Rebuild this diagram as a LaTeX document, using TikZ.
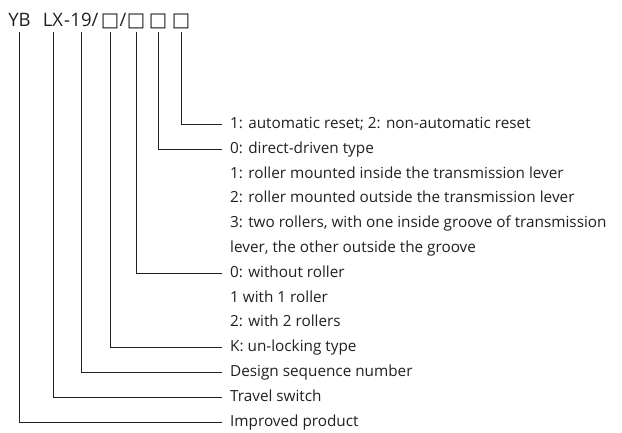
\documentclass[tikz,border=0pt]{standalone}
\usepackage{fontspec}
\setmainfont{Open Sans}
\newfontfamily\symfont{DejaVu Sans}
\usetikzlibrary{positioning}
\definecolor{inkgray}{HTML}{231F20}

\begin{document}
\begin{tikzpicture}[
  x=1pt, y=-1pt,
  font=\fontsize{15.3}{18}\selectfont,
  text=inkgray,
  code/.style={anchor=base, inner sep=0pt, font=\fontsize{18.5}{22}\selectfont},
  box/.style={anchor=base, inner sep=0pt, font=\fontsize{19.5}{22}\selectfont\symfont},
  item/.style={anchor=west, inner xsep=8pt, inner ysep=0pt,
               text height=11pt, text depth=3pt},
  lead/.style={line width=0.8pt, draw=inkgray},
]
\path[use as bounding box] (0,0) rectangle (622,432);
% model code
\node[code] (yb)   at (19.5,26) {YB};
\node[code] (lx)   at (53,26)   {LX};
\node[code] (dash) at (67,26)   {-};
\node[code] (ser)  at (81,26)   {19};
\node[code] (sla)  at (95,26)   {/};
\node[box]  (sqa)  at (110,26)  {□};
\node[code] (slb)  at (123,26)  {/};
\node[box]  (sqb)  at (136,26)  {□};
\node[box]  (sqc)  at (158,26)  {□};
\node[box]  (sqd)  at (181,26)  {□};
\coordinate (top) at (0,32);

% explanations
\node[item] (reset)   at (222,124.5) {1: automatic reset; 2: non-automatic reset};
\node[item] (direct)  at (222,149.3) {0: direct-driven type};
\node[item] (inside)  at (222,174.1) {1: roller mounted inside the transmission lever};
\node[item] (outside) at (222,198.9) {2: roller mounted outside the transmission lever};
\node[item] (tworoll) at (222,223.7) {3: two rollers, with one inside groove of transmission};
\node[item] (tworolb) at (222,248.5) {lever, the other outside the groove};
\node[item] (noroll)  at (222,273.3) {0: without roller};
\node[item] (oneroll) at (222,298.1) {1 with 1 roller};
\node[item] (tworol)  at (222,322.9) {2: with 2 rollers};
\node[item] (unlock)  at (222,347.7) {K: un-locking type};
\node[item] (design)  at (222,372.5) {Design sequence number};
\node[item] (travel)  at (222,397.3) {Travel switch};
\node[item] (improv)  at (222,422.1) {Improved product};

% leader lines
\draw[lead] (sqd |- top) |- (reset.west);
\draw[lead] (sqc |- top) |- (direct.west);
\draw[lead] (sqb |- top) |- (noroll.west);
\draw[lead] (sqa |- top) |- (unlock.west);
\draw[lead] (ser |- top) |- (design.west);
\draw[lead] (lx |- top)  |- (travel.west);
\draw[lead] (yb |- top)  |- (improv.west);
\end{tikzpicture}
\end{document}
